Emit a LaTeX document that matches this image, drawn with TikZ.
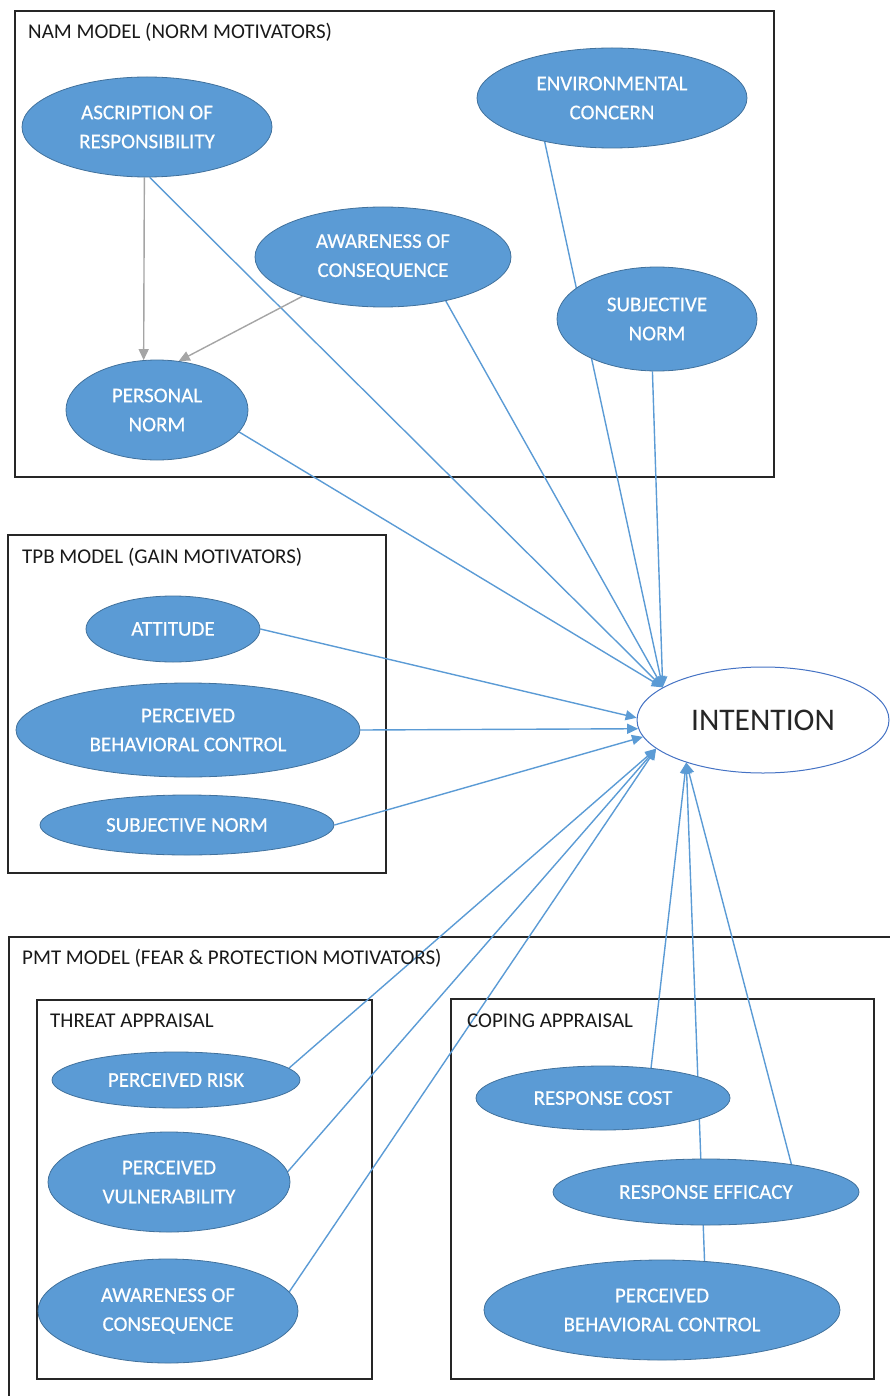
\documentclass[tikz,border=0pt]{standalone}
\usepackage{fontspec}
\setmainfont{Carlito}
\newfontfamily\ovalfont[FakeBold=0.4]{Carlito}
\usetikzlibrary{shapes.geometric,arrows.meta,backgrounds}
\definecolor{ovalfill}{HTML}{5B9BD5}
\definecolor{ovalline}{HTML}{41719C}
\definecolor{linkblue}{HTML}{5B9BD5}
\definecolor{linkgrey}{HTML}{A5A5A5}
\definecolor{intline}{HTML}{4472C4}

\begin{document}
\begin{tikzpicture}[x=1pt,y=-1pt,
  oval/.style={ellipse, fill=ovalfill, draw=ovalline, line width=0.8pt, inner sep=0pt,
    text=white, font=\ovalfont\fontsize{21}{29}\selectfont, align=center},
  frame/.style={draw=black!85, line width=1.3pt},
  title/.style={anchor=base west, inner sep=0pt, font=\fontsize{21}{25}\selectfont, text=black!90},
  link/.style={draw=linkblue, line width=1.4pt, -{Triangle[length=11pt,width=10pt]}},
  normlink/.style={draw=linkgrey, line width=1.4pt, -{Triangle[length=11pt,width=10pt]}},
]
\useasboundingbox (0,0) rectangle (890,1396);

% group titles
\node[title] (tnam) at (28,39) {NAM MODEL (NORM MOTIVATORS)};
\node[title] (ttpb) at (22,563) {TPB MODEL (GAIN MOTIVATORS)};
\node[title] (tpmt) at (22,964) {PMT MODEL (FEAR \& PROTECTION MOTIVATORS)};
\node[title] (tthr) at (50,1027) {THREAT APPRAISAL};
\node[title] (tcop) at (467,1027) {COPING APPRAISAL};

% NAM constructs
\node[oval, minimum width=250pt, minimum height=100pt] (asc) at (147,127) {ASCRIPTION OF\\RESPONSIBILITY};
\node[oval, minimum width=256pt, minimum height=100pt] (awn) at (383,257) {AWARENESS OF\\CONSEQUENCE};
\node[oval, minimum width=270pt, minimum height=100pt] (env) at (612,98) {ENVIRONMENTAL\\CONCERN};
\node[oval, minimum width=200pt, minimum height=104pt] (sjn) at (657,319) {SUBJECTIVE\\NORM};
\node[oval, minimum width=182pt, minimum height=100pt] (pn) at (157,410) {PERSONAL\\NORM};

% TPB constructs
\node[oval, minimum width=174pt, minimum height=66pt] (att) at (173,629) {ATTITUDE};
\node[oval, minimum width=344pt, minimum height=94pt] (pbc) at (188,730) {PERCEIVED\\BEHAVIORAL CONTROL};
\node[oval, minimum width=294pt, minimum height=60pt] (sjt) at (187,825) {SUBJECTIVE NORM};

% PMT: threat appraisal
\node[oval, minimum width=248pt, minimum height=56pt] (risk) at (176,1080) {PERCEIVED RISK};
\node[oval, minimum width=242pt, minimum height=100pt] (vul) at (169,1182) {PERCEIVED\\VULNERABILITY};
\node[oval, minimum width=260pt, minimum height=104pt] (awp) at (168,1311) {AWARENESS OF\\CONSEQUENCE};

% PMT: coping appraisal
\node[oval, minimum width=254pt, minimum height=64pt] (cost) at (603,1098) {RESPONSE COST};
\node[oval, minimum width=306pt, minimum height=66pt] (eff) at (706,1192) {RESPONSE EFFICACY};
\node[oval, minimum width=356pt, minimum height=100pt] (pbp) at (662,1310) {PERCEIVED\\BEHAVIORAL CONTROL};

% outcome
\node[ellipse, draw=intline, fill=white, line width=1pt, inner sep=0pt,
  minimum width=252pt, minimum height=106pt, text=black!85,
  font=\fontsize{31.5}{36}\selectfont] (int) at (763,720) {INTENTION};

\begin{pgfonlayer}{background}
  % group frames
  \draw[frame] (15,11) rectangle (774,477);
  \draw[frame] (8,535) rectangle (386,873);
  \draw[frame] (890,937) -- (9,937) -- (9,1396);
  \draw[frame] (37,1000) rectangle (372,1379);
  \draw[frame] (451,999) rectangle (874,1379);

  % paths into intention
  \draw[link] (asc.273) -- (int.162);
  \draw[link] (awn.325) -- (int.162);
  \draw[link] (pn.345) -- (int.162);
  \draw[link] (env.213) -- (int.162);
  \draw[link] (sjn.265) -- (int.162);

  \draw[link] (att.east) -- (int.179);
  \draw[link] (pbc.east) -- (int.184);
  \draw[link] (sjt.east) -- (int.188);

  \draw[link] (risk.6) -- (int.195);
  \draw[link] (vul.5) -- (int.195);
  \draw[link] (awp.9) -- (int.195);

  \draw[link] (cost.32) -- (int.209);
  \draw[link] (pbp.49) -- (int.209);
  \draw[link] (eff.18) -- (int.209);

  % antecedents of personal norm
  \draw[normlink] (asc.267) -- (pn.105);
  \draw[normlink] (awn.206) -- (pn.66);
\end{pgfonlayer}
\end{tikzpicture}
\end{document}
